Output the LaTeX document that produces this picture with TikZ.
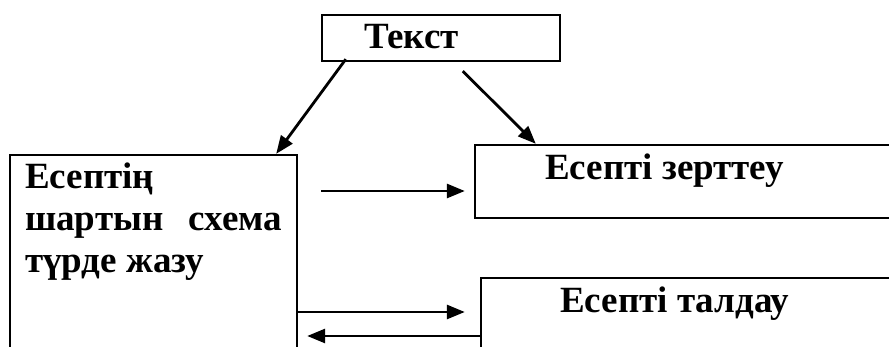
\documentclass[tikz,border=0pt]{standalone}
\usepackage{fontspec}
\setmainfont{Liberation Serif}
\usetikzlibrary{arrows.meta, calc, positioning}

\tikzset{
  box/.style={draw, line width=2.4pt, inner sep=0pt},
  lbl/.style={font=\fontsize{37}{42}\selectfont\bfseries, inner sep=0pt, anchor=base west, align=left},
  arr/.style={-{Triangle[length=18pt,width=14pt]}, line width=2.8pt},
}

\begin{document}
\begin{tikzpicture}[x=1pt,y=1pt]
  \useasboundingbox (0,0) rectangle (889,347);
  \clip (0,0) rectangle (889,347);
  % boxes
  \node[box, minimum width=238pt, minimum height=46pt] (tekst) at (441,309) {};
  \node[box, minimum width=287pt, minimum height=232pt] (lbox) at (153.5,76) {};
  \node[box, minimum width=475pt, minimum height=73pt] (zbox) at (712.5,165.5) {};
  \node[box, minimum width=469pt, minimum height=109pt] (tbox) at (715.5,14.5) {};
  % texts
  \node[lbl] (tekstlbl) at (364,298) {Текст};
  \node[lbl] (lboxlbl) at (25,74) {Есептің\\\makebox[257pt][s]{шартын\hfill схема}\\түрде жазу};
  \node[lbl] (zboxlbl) at (545,167) {Есепті зерттеу};
  \node[lbl] (tboxlbl) at (560,34) {Есепті талдау};
  % arrows
  \draw[arr] ($(tekst.south west)+(25,3)$) -- ($(lbox.north east)+(-22,0)$);
  \draw[arr] ($(tekst.south west)+(142,-9)$) -- ($(zbox.north west)+(62,0)$);
  \draw[arr] ($(lbox.north east |- zbox.west)+(23,-9.5)$) -- ($(zbox.west)+(-9,-9.5)$);
  \draw[arr] ($(lbox.east |- tbox.west)+(0,20.5)$) -- ($(tbox.west)+(-15,20.5)$);
  \draw[arr] ($(tbox.west)+(0,-3.5)$) -- ($(lbox.east |- tbox.west)+(9,-3.5)$);
\end{tikzpicture}
\end{document}
